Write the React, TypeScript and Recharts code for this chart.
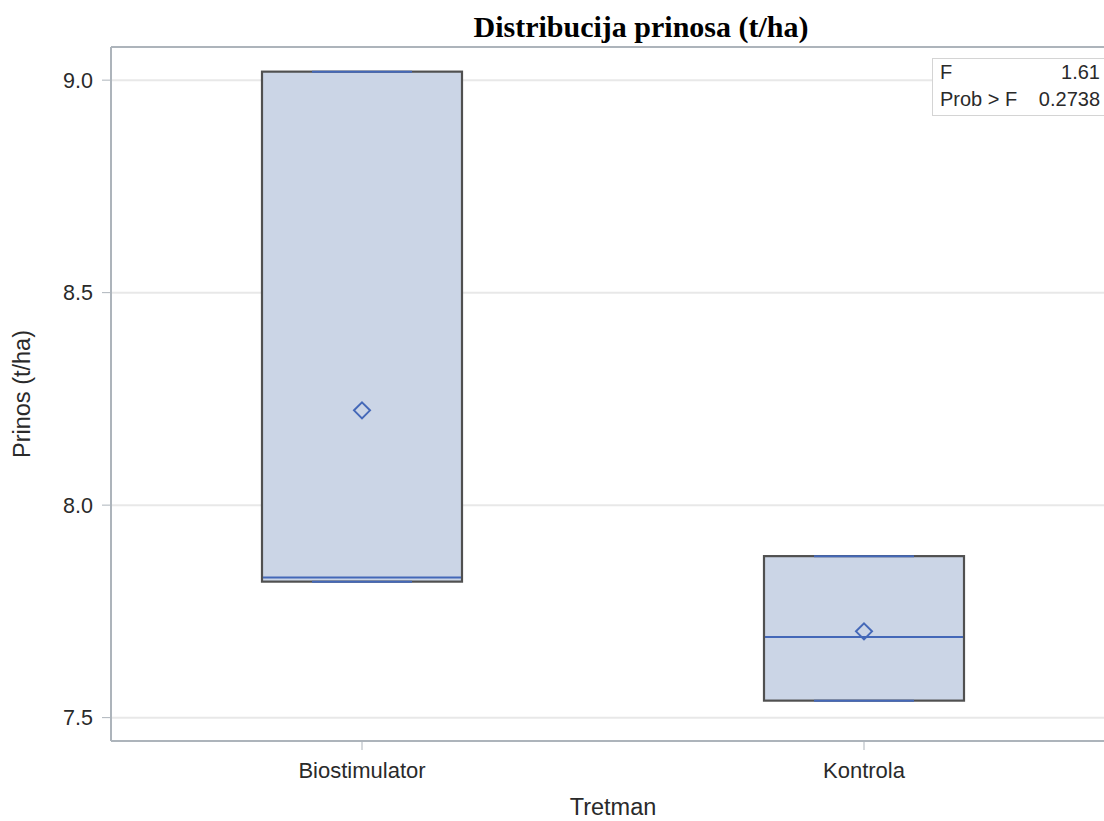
import {
  ComposedChart, Bar, Scatter, XAxis, YAxis, CartesianGrid, ReferenceLine,
} from 'recharts';

const categories = ['Biostimulator', 'Kontrola'];
const minValues = [7.82, 7.54];
const q1Values = [7.82, 7.54];
const medianValues = [7.83, 7.69];
const q3Values = [9.02, 7.88];
const maxValues = [9.02, 7.88];
const meanValues = [8.223, 7.703];
const yTicks = [7.5, 8.0, 8.5, 9.0];
const yDomain: [number, number] = [7.445, 9.078];
const statLabels = ['F', 'Prob > F'];
const statValues = ['1.61', '0.2738'];

const FONT = '"Liberation Sans", Arial, sans-serif';
const FRAME = '#adb4bb';
const BOX_FILL = '#cbd5e6';
const BOX_EDGE = '#505050';
const BLUE = '#4468b8';
const TEXT = '#2a2a2a';

const data = categories.map((name, i) => ({
  name,
  box: [q1Values[i], q3Values[i]],
  min: minValues[i],
  q1: q1Values[i],
  median: medianValues[i],
  q3: q3Values[i],
  max: maxValues[i],
  mean: meanValues[i],
}));

// box + whisker caps + median, positioned from the bar's own scaled rect
const BoxShape = (props: any) => {
  const { x, y, width, height, payload } = props;
  const k = height / (payload.q3 - payload.q1);
  const yOf = (v: number) => y + (payload.q3 - v) * k;
  const cx = x + width / 2;
  const capL = cx - width / 4;
  const capR = cx + width / 4;
  return (
    <g>
      <line x1={cx} x2={cx} y1={yOf(payload.max)} y2={y} stroke={BOX_EDGE} strokeWidth={2} />
      <line x1={cx} x2={cx} y1={y + height} y2={yOf(payload.min)} stroke={BOX_EDGE} strokeWidth={2} />
      <rect x={x} y={y} width={width} height={height} fill={BOX_FILL} stroke={BOX_EDGE} strokeWidth={2.2} />
      <line x1={x + 1} x2={x + width - 1} y1={yOf(payload.median)} y2={yOf(payload.median)} stroke={BLUE} strokeWidth={2} />
      <line x1={capL} x2={capR} y1={yOf(payload.max)} y2={yOf(payload.max)} stroke={BLUE} strokeWidth={2} />
      <line x1={capL} x2={capR} y1={yOf(payload.min)} y2={yOf(payload.min)} stroke={BLUE} strokeWidth={2} />
    </g>
  );
};

const Diamond = (props: any) => {
  const { cx, cy } = props;
  const r = 8;
  return (
    <polygon
      points={`${cx},${cy - r} ${cx + r},${cy} ${cx},${cy + r} ${cx - r},${cy}`}
      fill="none"
      stroke={BLUE}
      strokeWidth={2}
    />
  );
};

export default function App() {
  return (
    <div style={{ position: 'absolute', left: 0, top: 0, width: 1104, height: 821, overflow: 'hidden', background: '#fff', fontFamily: FONT }}>
      <div style={{ position: 'absolute', left: 0, top: 11, width: 1282, textAlign: 'center', fontFamily: '"Liberation Serif", "Times New Roman", serif', fontWeight: 'bold', fontSize: 30, lineHeight: '32px', color: '#000' }}>
        Distribucija prinosa (t/ha)
      </div>
      <ComposedChart
        width={1130}
        height={821}
        data={data}
        margin={{ top: 47, right: 15, bottom: 0, left: 0 }}
        style={{ position: 'absolute', left: 0, top: 0 }}
      >
        <CartesianGrid vertical={false} stroke="#e8e8e8" strokeWidth={2} />
        <XAxis
          dataKey="name"
          height={80}
          tickSize={9}
          tickMargin={12}
          axisLine={{ stroke: FRAME, strokeWidth: 2 }}
          tickLine={{ stroke: FRAME }}
          tick={{ fill: TEXT, fontSize: 22, fontFamily: FONT }}
          label={{ value: 'Tretman', position: 'insideBottom', offset: 6, fill: TEXT, fontSize: 23.5, fontFamily: FONT }}
        />
        <YAxis
          type="number"
          width={111}
          domain={yDomain}
          allowDataOverflow
          ticks={yTicks}
          tickFormatter={(v: number) => v.toFixed(1)}
          tickSize={9}
          tickMargin={9}
          axisLine={{ stroke: FRAME, strokeWidth: 2 }}
          tickLine={{ stroke: FRAME }}
          tick={{ fill: TEXT, fontSize: 21.5, fontFamily: FONT }}
          label={(p: any) => {
            const vb = p.viewBox;
            const lx = vb.x + 22;
            const ly = vb.y + vb.height / 2;
            return (
              <text x={lx} y={ly} transform={`rotate(-90, ${lx}, ${ly})`} textAnchor="middle" dominantBaseline="central" fill={TEXT} fontSize={23.5} fontFamily={FONT}>
                Prinos (t/ha)
              </text>
            );
          }}
        />
        <ReferenceLine y={yDomain[1]} stroke={FRAME} strokeWidth={2} />
        <Bar dataKey="box" barSize={200} shape={BoxShape} isAnimationActive={false} />
        <Scatter dataKey="mean" shape={Diamond} isAnimationActive={false} />
      </ComposedChart>
      <div style={{ position: 'absolute', left: 932, top: 58, width: 200, height: 58, border: '1px solid #d4d4d4', background: '#fff', boxSizing: 'border-box', paddingLeft: 7, paddingTop: 0 }}>
        {statLabels.map((lab, i) => (
          <div key={lab} style={{ display: 'flex', justifyContent: 'space-between', width: 160, fontSize: 20, lineHeight: '27px', color: TEXT }}>
            <span>{lab}</span>
            <span>{statValues[i]}</span>
          </div>
        ))}
      </div>
    </div>
  );
}
